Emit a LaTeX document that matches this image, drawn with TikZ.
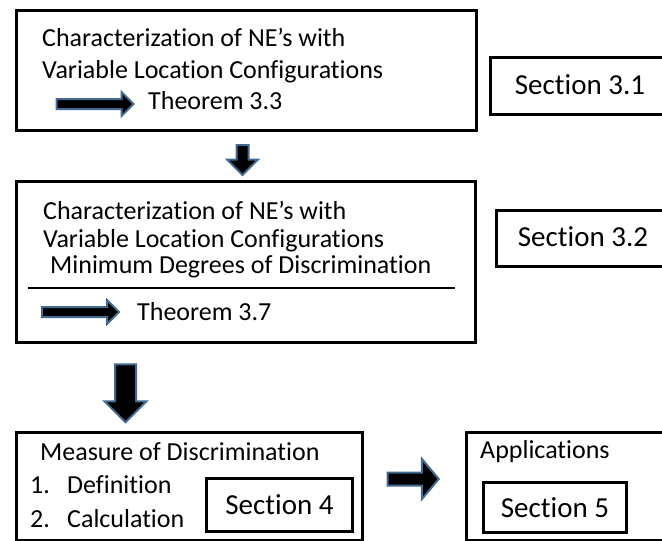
\documentclass[tikz,border=0pt]{standalone}
\usepackage{fontspec}
\setmainfont[Ligatures=NoCommon]{Carlito}
\usepackage{xcolor}
\usetikzlibrary{shapes.arrows,positioning}
\definecolor{arrowblue}{RGB}{65,105,145}

\begin{document}
\begin{tikzpicture}[x=1pt, y=-1pt,
every node/.style = {inner sep=0pt,
font=\fontsize{26}{30}\selectfont}, box/.style={
rectangle, draw=black, line width=3pt, anchor=north west},
secbox/.style={rectangle, draw=black, line width=3pt},
sectext/.style={font=\fontsize{29}{34}\selectfont},
line/.style={anchor=base west},
blockarrow/.style={single arrow, draw=arrowblue,
line width=2pt, fill=black} ]
\useasboundingbox (0,0) rectangle (662,541);
\clip (0,0) rectangle (662,541);
% boxes
\node[box, minimum width=460, minimum height=120] (char1) at (14.5,8.5) {};
\node[box, minimum width=459, minimum height=161] (char2) at (14.5,179.5) {};
\node[box, minimum width=346, minimum height=108] (measure) at (14.5,430.5) {};
\node[box, minimum width=250, minimum height=108] (apps) at (464.5,430.5) {};
% section boxes
\node[secbox, anchor=north west, minimum width=230, minimum height=57] (sec31) at (488.5,55.5) {};
\node[sectext] (sec31text) at (580,85) {Section 3.1};
\node[secbox, anchor=north west, minimum width=230, minimum height=56] (sec32) at (494.5,208.5) {};
\node[sectext] (sec32text) at (583,237) {Section 3.2};
\node[secbox, sectext, minimum width=146, minimum height=53] (sec4) at (279.5,505) {Section 4};
\node[secbox, sectext, minimum width=143, minimum height=50] (sec5) at (555,507.5) {Section 5};
% texts
\node[line] (c1a) at (42,46) {Characterization of NE’s with};
\node[line] (c1b) at (42,78) {Variable Location Configurations};
\node[line] (thm33) at (148,109) {Theorem 3.3};
\node[line] (c2a) at (43,219) {Characterization of NE’s with};
\node[line] (c2b) at (43,247) {Variable Location Configurations};
\node[line] (c2c) at (50,273) {Minimum Degrees of Discrimination};
\draw[line width=1.2pt] (28,288) -- (455,288);
\node[line] (thm37) at (137,320) {Theorem 3.7};
\node[line] (mtitle) at (40,460) {Measure of Discrimination};
\node[line] (n1) at (30,493) {1.};
\node[line] (def) at (67,493) {Definition};
\node[line] (n2) at (30,527) {2.};
\node[line] (calc) at (67,527) {Calculation};
\node[line] (apptitle) at (480,458) {Applications};
% block arrows
\node[blockarrow, inner sep=4pt, minimum height=77, single arrow head extend=7pt] (a33) at (92.5,104) {};
\node[blockarrow, inner sep=4pt, minimum height=77, single arrow head extend=7pt] (a37) at (78,312) {};
\node[blockarrow, rotate=-90, inner sep=5pt, minimum height=30, single arrow head extend=9.5pt] (down1) at (242.5,157) {};
\node[blockarrow, rotate=-90, inner sep=9.5pt, minimum height=58, single arrow head extend=10.5pt] (down2) at (125.5,388) {};
\node[blockarrow, inner sep=5.5pt, minimum height=51, single arrow head extend=13.5pt, single arrow tip angle=100] (right1) at (410.5,479) {};
\end{tikzpicture}
\end{document}
